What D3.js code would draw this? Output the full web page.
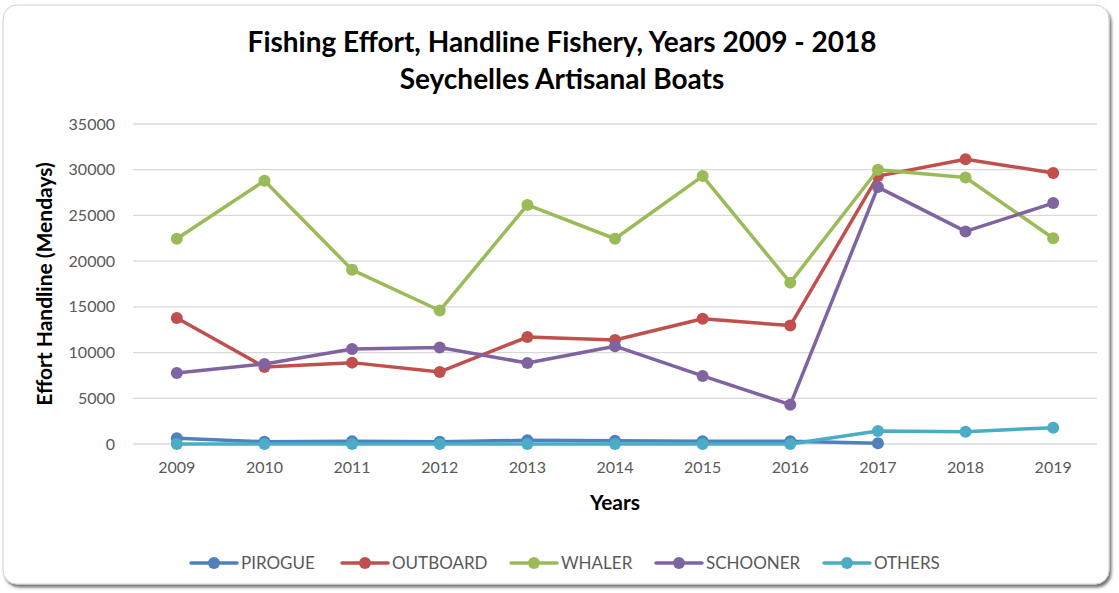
<!DOCTYPE html>
<html><head><meta charset="utf-8">
<script src="https://cdn.jsdelivr.net/npm/d3@7"></script>
<style>
html,body{margin:0;padding:0;background:#fff;}
svg{display:block;font-family:Lato,"Open Sans",sans-serif;}
</style></head>
<body>
<svg id="chart" width="1119" height="593"></svg>
<script>
const years = ["2009","2010","2011","2012","2013","2014","2015","2016","2017","2018","2019"];
const pirogue  = [620, 250, 300, 250, 400, 350, 300, 300, 80, null, null];
const outboard = [13780, 8420, 8900, 7880, 11700, 11380, 13700, 12950, 29300, 31150, 29650];
const whaler   = [22450, 28800, 19050, 14600, 26150, 22450, 29300, 17650, 30000, 29150, 22500];
const schooner = [7770, 8750, 10400, 10550, 8850, 10700, 7450, 4300, 28100, 23250, 26350];
const others   = [0, 0, 0, 0, 0, 0, 0, 0, 1420, 1350, 1790];
const seriesNames = ["PIROGUE","OUTBOARD","WHALER","SCHOONER","OTHERS"];
const seriesColors = ["#4f81bd","#c0504d","#9bbb59","#8064a2","#4bacc6"];
const yTicks = [0,5000,10000,15000,20000,25000,30000,35000];

const series = [pirogue, outboard, whaler, schooner, others];
const svg = d3.select("#chart");

// frame
const defs = svg.append("defs");
const f = defs.append("filter").attr("id","sh").attr("x","-5%").attr("y","-5%").attr("width","110%").attr("height","115%");
f.append("feDropShadow").attr("dx",2).attr("dy",3).attr("stdDeviation",1.8).attr("flood-color","#000").attr("flood-opacity",0.55);
svg.append("rect").attr("x",3).attr("y",5).attr("width",1106).attr("height",579)
  .attr("rx",14).attr("fill","#fff").attr("stroke","#d0d0d0").attr("stroke-width",1).attr("filter","url(#sh)");

const x = d3.scaleBand().domain(years).range([133,1097]);
const y = d3.scaleLinear().domain([0,35000]).range([444,124]);

// gridlines
svg.append("g").selectAll("line").data(yTicks).join("line")
  .attr("x1",133).attr("x2",1097).attr("y1",d=>y(d)).attr("y2",d=>y(d))
  .attr("stroke","#d9d9d9").attr("stroke-width",1.3);

// y axis
const ya = svg.append("g").attr("transform","translate(133,0)")
  .call(d3.axisLeft(y).tickValues(yTicks).tickSize(0).tickPadding(18).tickFormat(d3.format("d")));
ya.select(".domain").remove();
ya.selectAll("text").attr("fill","#595959").style("font-size","16px").style("font-family","Lato,'Open Sans',sans-serif");

// x axis
const xa = svg.append("g").attr("transform","translate(0,444)")
  .call(d3.axisBottom(x).tickSize(0).tickPadding(18));
xa.select(".domain").remove();
xa.selectAll("text").attr("fill","#595959").style("font-size","16px").style("font-family","Lato,'Open Sans',sans-serif");

// titles
svg.append("text").attr("x",562).attr("y",52).attr("text-anchor","middle")
  .attr("font-weight","bold").attr("font-size","28px").attr("fill","#000")
  .text("Fishing Effort, Handline Fishery, Years 2009 - 2018");
svg.append("text").attr("x",562).attr("y",89).attr("text-anchor","middle")
  .attr("font-weight","bold").attr("font-size","28px").attr("fill","#000")
  .text("Seychelles Artisanal Boats");
svg.append("text").attr("transform","translate(52,284) rotate(-90)").attr("text-anchor","middle")
  .attr("font-weight","bold").attr("font-size","21px").attr("fill","#000")
  .text("Effort Handline (Mendays)");
svg.append("text").attr("x",615).attr("y",510).attr("text-anchor","middle")
  .attr("font-weight","bold").attr("font-size","21px").attr("fill","#000")
  .text("Years");

// lines
const line = d3.line().defined(d=>d.v!=null).x(d=>x(d.k)+x.bandwidth()/2).y(d=>y(d.v));
series.forEach((s,i)=>{
  const pts = years.map((k,j)=>({k, v:s[j]}));
  const g = svg.append("g");
  g.append("path").datum(pts).attr("d",line).attr("fill","none")
    .attr("stroke",seriesColors[i]).attr("stroke-width",3.5).attr("stroke-linejoin","round");
  g.selectAll("circle").data(pts.filter(d=>d.v!=null)).join("circle")
    .attr("cx",d=>x(d.k)+x.bandwidth()/2).attr("cy",d=>y(d.v)).attr("r",6)
    .attr("fill",seriesColors[i]);
});

// legend
const legX = [191, 342, 511, 656, 824];
const leg = svg.append("g");
seriesNames.forEach((n,i)=>{
  const g = leg.append("g").attr("transform",`translate(${legX[i]},563)`);
  g.append("line").attr("x1",0).attr("x2",46).attr("stroke",seriesColors[i]).attr("stroke-width",3.5).attr("stroke-linecap","round");
  g.append("circle").attr("cx",23).attr("r",6).attr("fill",seriesColors[i]);
  g.append("text").attr("x",50).attr("y",6).attr("fill","#595959").attr("font-size","17px").text(n);
});
</script>
</body></html>
